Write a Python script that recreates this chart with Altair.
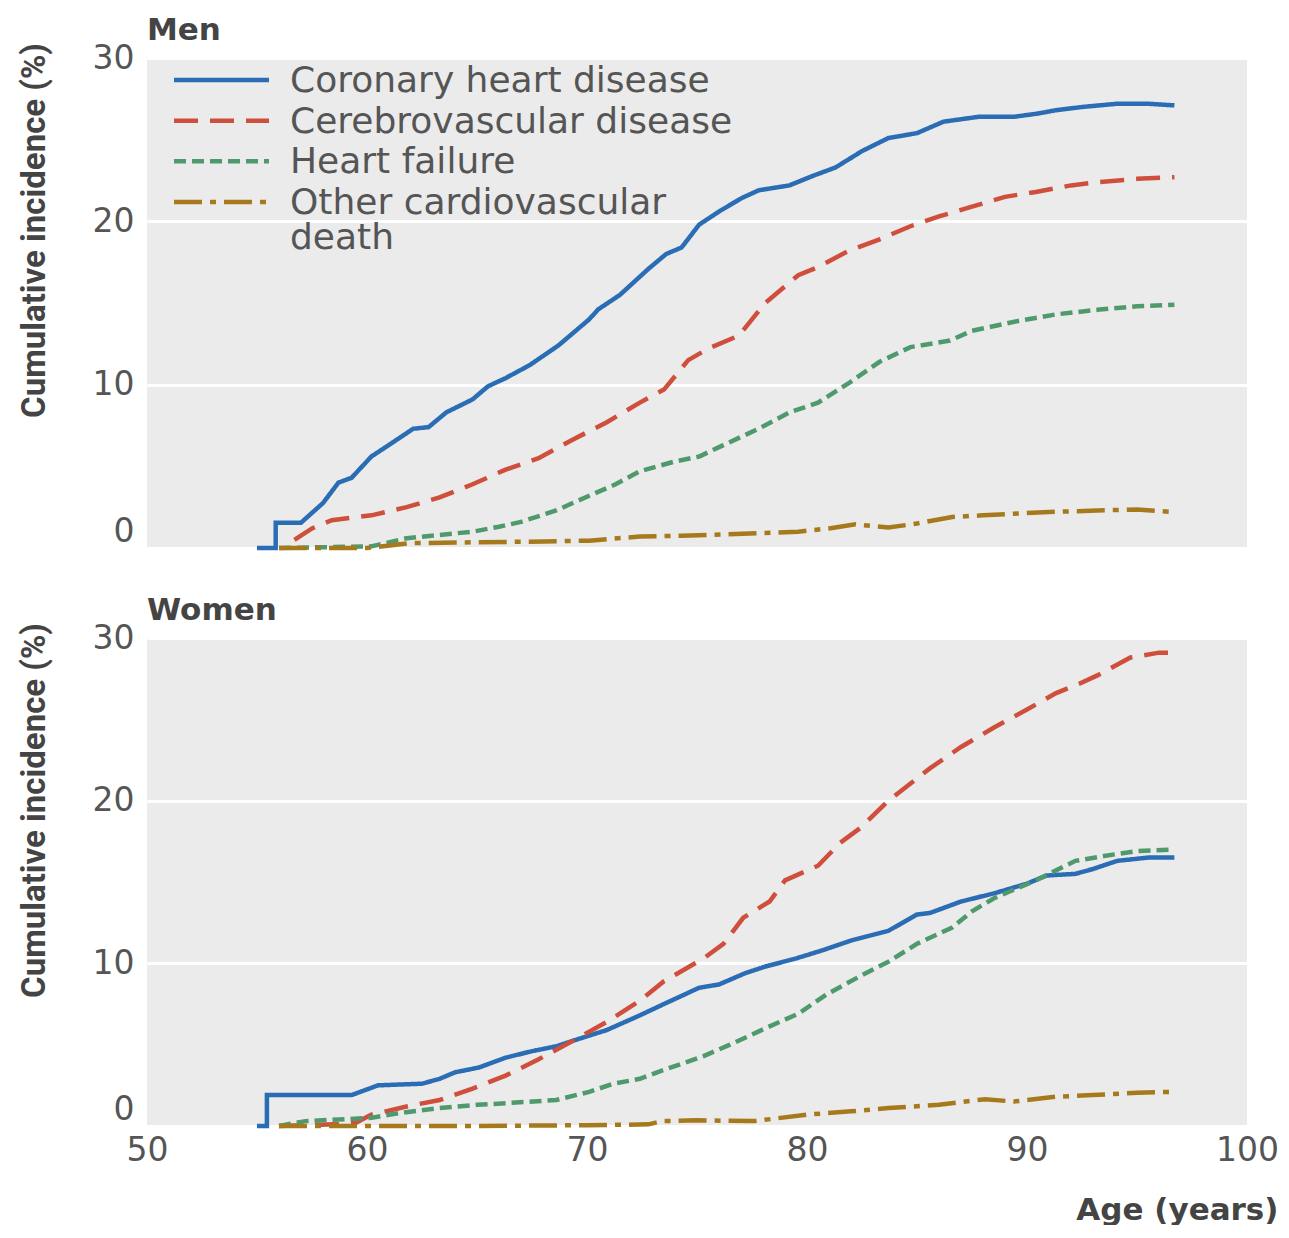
import altair as alt
import pandas as pd

SERIES = ["Coronary heart disease", "Cerebrovascular disease", "Heart failure", "Other cardiovascular death"]
LEGEND_LABELS = ["Coronary heart disease", "Cerebrovascular disease", "Heart failure", "Other cardiovascular\ndeath"]
COLORS = ["#2a6db5", "#cf4f3c", "#4e9a6c", "#a67a1c"]
DASHES = [[1, 0], [24, 12], [12, 6], [28, 8, 6, 8]]
X_TICKS = [50, 60, 70, 80, 90, 100]
Y_TICKS = [0, 10, 20, 30]

# ---- Men ----
men_chd_age = [55.0, 55.85, 55.85, 57.0, 58.0, 58.7, 59.3, 60.2, 61.1, 62.1, 62.8, 63.6, 64.8, 65.5, 66.3,
               67.4, 68.7, 70.1, 70.5, 71.5, 72.8, 73.6, 74.3, 75.1, 76.0, 77.0, 77.8, 79.2, 80.3, 81.3,
               82.5, 83.7, 85.0, 86.2, 87.8, 89.4, 90.5, 91.3, 92.5, 94.1, 95.5, 96.7]
men_chd_val = [0.0, 0.0, 1.55, 1.55, 2.75, 4.0, 4.3, 5.6, 6.4, 7.3, 7.4, 8.3, 9.1, 9.9, 10.4,
               11.2, 12.4, 14.0, 14.6, 15.5, 17.1, 18.0, 18.4, 19.8, 20.6, 21.4, 21.9, 22.2, 22.8, 23.3,
               24.3, 25.1, 25.4, 26.1, 26.4, 26.4, 26.6, 26.8, 27.0, 27.2, 27.2, 27.1]

men_cer_age = [56.7, 57.5, 58.4, 60.2, 61.8, 63.3, 64.8, 66.3, 67.8, 69.3, 70.9, 72.4, 73.5, 74.6, 75.5,
               76.9, 78.1, 79.6, 80.5, 81.9, 83.3, 84.7, 86.0, 87.5, 89.0, 90.4, 92.0, 93.2, 95.0, 96.7]
men_cer_val = [0.5, 1.2, 1.7, 2.0, 2.5, 3.1, 3.9, 4.8, 5.5, 6.6, 7.7, 8.9, 9.7, 11.5, 12.2,
               13.0, 15.0, 16.7, 17.2, 18.2, 18.9, 19.7, 20.3, 20.9, 21.5, 21.8, 22.2, 22.4, 22.6, 22.7]

men_hf_age = [56.0, 60.2, 61.8, 63.3, 64.8, 66.0, 67.0, 68.6, 70.1, 71.3, 72.4, 74.0, 75.1, 76.2, 77.8,
              79.2, 80.5, 81.9, 83.3, 84.7, 86.5, 87.5, 89.6, 91.3, 93.3, 95.0, 96.7]
men_hf_val = [0.0, 0.1, 0.6, 0.8, 1.0, 1.3, 1.6, 2.3, 3.2, 3.9, 4.7, 5.3, 5.6, 6.3, 7.3,
              8.3, 8.9, 10.1, 11.4, 12.3, 12.7, 13.3, 13.9, 14.3, 14.6, 14.8, 14.9]

men_oth_age = [56.0, 60.0, 62.0, 65.0, 68.0, 70.1, 72.4, 74.3, 77.8, 79.6, 81.0, 82.2, 83.7, 85.0, 86.6,
               88.0, 89.4, 91.0, 93.2, 95.0, 96.7]
men_oth_val = [0.0, 0.0, 0.3, 0.35, 0.4, 0.45, 0.7, 0.75, 0.9, 1.0, 1.2, 1.45, 1.25, 1.5, 1.9,
               2.0, 2.1, 2.2, 2.3, 2.35, 2.2]

# ---- Women ----
wom_chd_age = [55.0, 55.45, 55.45, 59.3, 60.5, 62.5, 63.3, 64.0, 65.1, 66.3, 67.5, 68.6, 69.5, 70.9, 72.4,
               73.5, 75.1, 76.0, 77.2, 78.1, 79.5, 80.7, 82.0, 83.7, 85.0, 85.6, 87.0, 88.5, 90.0, 90.9,
               92.2, 93.0, 94.1, 95.5, 96.7]
wom_chd_val = [0.0, 0.0, 1.9, 1.9, 2.5, 2.6, 2.9, 3.3, 3.6, 4.2, 4.6, 4.9, 5.3, 5.9, 6.8,
               7.5, 8.5, 8.7, 9.4, 9.8, 10.3, 10.8, 11.4, 12.0, 13.0, 13.1, 13.8, 14.3, 14.9, 15.4,
               15.5, 15.8, 16.3, 16.5, 16.5]

wom_cer_age = [56.0, 58.5, 59.5, 60.2, 61.8, 63.3, 64.8, 66.3, 67.8, 69.3, 70.9, 72.4, 73.5, 75.3, 76.2,
               77.1, 78.3, 79.0, 80.5, 81.5, 82.4, 83.7, 85.6, 87.0, 88.5, 90.0, 91.3, 92.4, 93.2, 94.7,
               96.0, 96.7]
wom_cer_val = [0.0, 0.1, 0.2, 0.7, 1.2, 1.6, 2.3, 3.1, 4.1, 5.2, 6.4, 7.7, 8.9, 10.3, 11.2,
               12.8, 13.8, 15.1, 16.0, 17.4, 18.3, 20.0, 22.0, 23.3, 24.5, 25.6, 26.6, 27.2, 27.7, 28.8,
               29.1, 29.1]

wom_hf_age = [56.0, 57.2, 60.2, 61.5, 63.3, 65.0, 66.3, 68.6, 70.1, 71.2, 72.4, 73.4, 75.3, 76.5, 78.1,
              79.6, 80.9, 82.4, 83.7, 85.0, 86.6, 87.5, 88.5, 90.4, 92.2, 93.5, 95.0, 96.7]
wom_hf_val = [0.0, 0.3, 0.5, 0.8, 1.1, 1.3, 1.4, 1.6, 2.1, 2.6, 2.9, 3.4, 4.3, 5.0, 6.0,
              6.9, 8.1, 9.2, 10.1, 11.2, 12.2, 13.2, 14.0, 15.1, 16.3, 16.6, 16.9, 17.0]

wom_oth_age = [56.0, 60.0, 65.0, 70.0, 72.8, 73.4, 75.0, 77.6, 80.0, 82.0, 83.7, 86.0, 88.1, 89.4, 91.3,
               93.0, 95.0, 96.7]
wom_oth_val = [0.0, 0.0, 0.0, 0.05, 0.1, 0.3, 0.35, 0.3, 0.7, 0.9, 1.1, 1.3, 1.65, 1.5, 1.8,
               1.9, 2.05, 2.1]


def build(parts):
    rows = []
    for name, ages, vals in parts:
        for i, (a, v) in enumerate(zip(ages, vals)):
            rows.append({"series": name, "age": a, "value": v, "idx": i})
    return pd.DataFrame(rows)


men_df = build([(SERIES[0], men_chd_age, men_chd_val), (SERIES[1], men_cer_age, men_cer_val),
                (SERIES[2], men_hf_age, men_hf_val), (SERIES[3], men_oth_age, men_oth_val)])
wom_df = build([(SERIES[0], wom_chd_age, wom_chd_val), (SERIES[1], wom_cer_age, wom_cer_val),
                (SERIES[2], wom_hf_age, wom_hf_val), (SERIES[3], wom_oth_age, wom_oth_val)])
leg_df = pd.DataFrame({"series": SERIES, "label": LEGEND_LABELS})

FONT = "DejaVu Sans"
TEXT_GRAY = "#555555"
TITLE_GRAY = "#444444"

color = alt.Color("series:N", scale=alt.Scale(domain=SERIES, range=COLORS), legend=None)
dash = alt.StrokeDash("series:N", scale=alt.Scale(domain=SERIES, range=DASHES), legend=None)

y_axis = alt.Axis(
    values=Y_TICKS, grid=True, gridColor="white", gridWidth=3, domain=False, ticks=False,
    labelFont=FONT, labelFontSize=33, labelColor=TEXT_GRAY, labelPadding=13,
    labelBaseline={"condition": {"test": "datum.value == 0", "value": "bottom"}, "value": "middle"},
    title="Cumulative incidence (%)", titleFont="Roboto",
    titleFontSize=33, titleFontWeight="bold", titleColor=TITLE_GRAY,
    titleAngle=270, titleAlign="center", titleBaseline="middle", titleX=-113, titleY=172,
)


def lines(df, x_axis):
    return alt.Chart(df).mark_line(strokeWidth=4.5).encode(
        x=alt.X("age:Q", scale=alt.Scale(domain=[50, 100], nice=False, zero=False), axis=x_axis),
        y=alt.Y("value:Q", scale=alt.Scale(domain=[0, 30], nice=False), axis=y_axis),
        color=color,
        strokeDash=dash,
        order=alt.Order("idx:Q"),
    )


def panel_title(text):
    return alt.Title(text, anchor="start", frame="group", font=FONT, fontSize=31, fontWeight="bold",
                     color=TITLE_GRAY, baseline="alphabetic", offset=-29)


leg_y = alt.Y("series:N", sort=SERIES,
              scale=alt.Scale(type="point", domain=SERIES, range=[22, 144], padding=0), axis=None)
leg_rules = alt.Chart(leg_df).mark_rule(strokeWidth=4.5).encode(
    x=alt.value(27), x2=alt.value(122), y=leg_y, color=color, strokeDash=dash)
leg_text = alt.Chart(leg_df).mark_text(
    align="left", baseline="alphabetic", dy=12, font=FONT, fontSize=36, color=TEXT_GRAY,
    lineBreak="\n", lineHeight=35,
).encode(x=alt.value(143), y=leg_y, text="label:N")

top = alt.layer(lines(men_df, None), leg_rules, leg_text).resolve_scale(y="independent").properties(
    width=1100, height=490, title=panel_title("Men"))

x_axis = alt.Axis(
    values=X_TICKS, grid=False, domain=False, ticks=False, labelFlush=False,
    labelFont=FONT, labelFontSize=33, labelColor=TEXT_GRAY, labelPadding=8,
    title="Age (years)", titleFont=FONT, titleFontSize=31, titleFontWeight="bold", titleColor=TITLE_GRAY,
    titleAlign="right", titleBaseline="middle", titleX=1131, titleY=84,
)
bottom = lines(wom_df, x_axis).properties(width=1100, height=488, title=panel_title("Women"))

chart = alt.vconcat(top, bottom, spacing=38).properties(
    padding={"left": 10, "top": 7, "right": 0, "bottom": 0}
).configure_view(fill="#ebebeb", stroke=None)

chart.save("out.html", embed_options={"renderer": "svg", "actions": False})
